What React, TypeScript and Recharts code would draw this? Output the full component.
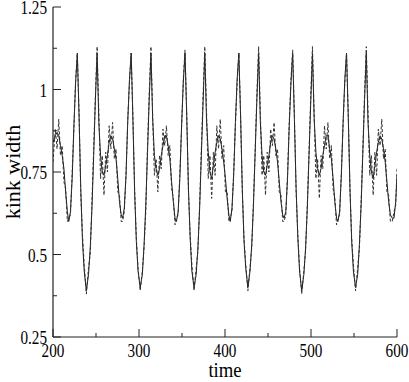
import React from 'react';
import { LineChart, Line, XAxis, YAxis, Label } from 'recharts';

// time samples
const time = [
  200, 202.7, 204.7, 206.7, 208.7, 210.7, 212.7, 214.7, 216.7,
  218.3, 220.3, 222.3, 224.3, 226.3, 228.3, 230.3, 232.3, 234.3, 236.3, 238.8, 241.3, 243.3, 245.3, 247.3, 249.3, 251.3, 253.3, 255.3, 257.3, 259.3, 261.3, 263.3, 265.3, 267.3, 269.3, 271.3, 273.3, 275.3, 277.3, 279.3,
  280.9, 282.9, 284.9, 286.9, 288.9, 290.9, 292.9, 294.9, 296.9, 298.9, 301.4, 303.9, 305.9, 307.9, 309.9, 311.9, 313.9, 315.9, 317.9, 319.9, 321.9, 323.9, 325.9, 327.9, 329.9, 331.9, 333.9, 335.9, 337.9, 339.9, 341.9,
  343.5, 345.5, 347.5, 349.5, 351.5, 353.5, 355.5, 357.5, 359.5, 361.5, 364, 366.5, 368.5, 370.5, 372.5, 374.5, 376.5, 378.5, 380.5, 382.5, 384.5, 386.5, 388.5, 390.5, 392.5, 394.5, 396.5, 398.5, 400.5, 402.5, 404.5,
  406.1, 408.1, 410.1, 412.1, 414.1, 416.1, 418.1, 420.1, 422.1, 424.1, 426.6, 429.1, 431.1, 433.1, 435.1, 437.1, 439.1, 441.1, 443.1, 445.1, 447.1, 449.1, 451.1, 453.1, 455.1, 457.1, 459.1, 461.1, 463.1, 465.1, 467.1,
  468.7, 470.7, 472.7, 474.7, 476.7, 478.7, 480.7, 482.7, 484.7, 486.7, 489.2, 491.7, 493.7, 495.7, 497.7, 499.7, 501.7, 503.7, 505.7, 507.7, 509.7, 511.7, 513.7, 515.7, 517.7, 519.7, 521.7, 523.7, 525.7, 527.7, 529.7,
  531.3, 533.3, 535.3, 537.3, 539.3, 541.3, 543.3, 545.3, 547.3, 549.3, 551.8, 554.3, 556.3, 558.3, 560.3, 562.3, 564.3, 566.3, 568.3, 570.3, 572.3, 574.3, 576.3, 578.3, 580.3, 582.3, 584.3, 586.3, 588.3, 590.3, 592.3,
  594.5, 596.5, 598.5, 600,
];

// solid curve
const kinkSolid = [
  0.84, 0.86, 0.87, 0.86, 0.83, 0.80, 0.76, 0.69, 0.63,
  0.60, 0.63, 0.73, 0.89, 1.02, 1.11, 0.92, 0.70, 0.54, 0.45, 0.39, 0.44, 0.52, 0.64, 0.80, 0.97, 1.11, 0.90, 0.80, 0.75, 0.74, 0.77, 0.80, 0.84, 0.86, 0.85, 0.82, 0.79, 0.73, 0.66, 0.62,
  0.61, 0.64, 0.74, 0.90, 1.03, 1.11, 0.91, 0.69, 0.54, 0.45, 0.40, 0.44, 0.53, 0.65, 0.81, 0.97, 1.11, 0.91, 0.80, 0.76, 0.74, 0.76, 0.80, 0.83, 0.86, 0.86, 0.83, 0.79, 0.72, 0.66, 0.61,
  0.60, 0.63, 0.73, 0.89, 1.02, 1.11, 0.92, 0.70, 0.55, 0.45, 0.40, 0.44, 0.52, 0.64, 0.80, 0.96, 1.11, 0.91, 0.81, 0.75, 0.73, 0.77, 0.81, 0.84, 0.86, 0.85, 0.82, 0.78, 0.73, 0.67, 0.62,
  0.60, 0.64, 0.74, 0.90, 1.03, 1.11, 0.92, 0.70, 0.54, 0.46, 0.40, 0.45, 0.53, 0.65, 0.81, 0.97, 1.11, 0.90, 0.80, 0.75, 0.74, 0.77, 0.80, 0.84, 0.86, 0.85, 0.82, 0.78, 0.72, 0.66, 0.62,
  0.61, 0.63, 0.73, 0.89, 1.02, 1.11, 0.91, 0.70, 0.55, 0.45, 0.39, 0.44, 0.52, 0.64, 0.80, 0.96, 1.11, 0.91, 0.81, 0.76, 0.74, 0.76, 0.80, 0.83, 0.86, 0.86, 0.82, 0.79, 0.73, 0.66, 0.61,
  0.60, 0.63, 0.74, 0.90, 1.03, 1.11, 0.92, 0.70, 0.54, 0.45, 0.40, 0.44, 0.53, 0.65, 0.81, 0.97, 1.11, 0.90, 0.80, 0.75, 0.73, 0.77, 0.81, 0.84, 0.86, 0.85, 0.82, 0.78, 0.72, 0.66, 0.62,
  0.61, 0.61, 0.66, 0.74,
];

// dashed curve
const kinkDashed = [
  0.78, 0.88, 0.82, 0.91, 0.80, 0.83, 0.72, 0.70, 0.60,
  0.61, 0.62, 0.75, 0.88, 1.03, 1.11, 0.93, 0.68, 0.56, 0.47, 0.38, 0.46, 0.50, 0.66, 0.82, 0.98, 1.13, 0.93, 0.73, 0.80, 0.68, 0.81, 0.75, 0.89, 0.82, 0.90, 0.79, 0.82, 0.69, 0.68, 0.60,
  0.60, 0.63, 0.74, 0.91, 1.02, 1.11, 0.92, 0.70, 0.55, 0.46, 0.39, 0.45, 0.52, 0.63, 0.83, 0.99, 1.13, 0.92, 0.74, 0.79, 0.69, 0.80, 0.76, 0.88, 0.83, 0.89, 0.80, 0.83, 0.70, 0.67, 0.59,
  0.61, 0.62, 0.75, 0.88, 1.03, 1.12, 0.93, 0.69, 0.56, 0.47, 0.39, 0.46, 0.51, 0.65, 0.82, 0.98, 1.13, 0.94, 0.73, 0.80, 0.67, 0.81, 0.74, 0.89, 0.82, 0.91, 0.79, 0.83, 0.69, 0.69, 0.60,
  0.61, 0.63, 0.75, 0.89, 1.02, 1.11, 0.93, 0.69, 0.55, 0.47, 0.39, 0.46, 0.52, 0.66, 0.82, 0.99, 1.13, 0.93, 0.74, 0.80, 0.68, 0.81, 0.75, 0.88, 0.83, 0.90, 0.80, 0.82, 0.69, 0.68, 0.60,
  0.60, 0.62, 0.74, 0.90, 1.03, 1.12, 0.92, 0.69, 0.56, 0.46, 0.38, 0.45, 0.51, 0.65, 0.81, 0.98, 1.13, 0.92, 0.73, 0.79, 0.67, 0.80, 0.76, 0.89, 0.82, 0.90, 0.79, 0.83, 0.70, 0.67, 0.59,
  0.61, 0.62, 0.75, 0.89, 1.02, 1.11, 0.93, 0.70, 0.55, 0.47, 0.39, 0.46, 0.52, 0.66, 0.82, 0.99, 1.13, 0.93, 0.74, 0.80, 0.68, 0.81, 0.74, 0.88, 0.83, 0.91, 0.79, 0.82, 0.69, 0.68, 0.60,
  0.60, 0.63, 0.65, 0.76,
];

const xMajorTicks = [200, 300, 400, 500, 600];
const xMinorTicks = [250, 350, 450, 550];
const yMajorTicks = [0.25, 0.5, 0.75, 1, 1.25];
const yMinorTicks = [0.375, 0.625, 0.875, 1.125];
const yTickLabels = ['0.25', '0.5', '0.75', '1', '1.25'];

const xAllTicks = [...xMajorTicks, ...xMinorTicks].sort((a, b) => a - b);
const yAllTicks = [...yMajorTicks, ...yMinorTicks].sort((a, b) => a - b);

const data = time.map((t, i) => ({ time: t, solid: kinkSolid[i], dashed: kinkDashed[i] }));

const FONT = "'Liberation Serif', 'Times New Roman', serif";
const AXIS = '#222';
const MAJOR = 8;
const MINOR = 4;

function BottomTick(props: any) {
  const { x, y, payload } = props;
  const v = payload.value;
  const major = xMajorTicks.includes(v);
  return (
    <g>
      <line x1={x} x2={x} y1={y} y2={y - (major ? MAJOR : MINOR)} stroke={AXIS} strokeWidth={1} />
      {major && (
        <text
          transform={`translate(${x},${y + 20}) scale(0.8,1)`}
          textAnchor="middle"
          fontFamily={FONT}
          fontSize={19}
          fill="#000"
        >
          {String(v)}
        </text>
      )}
    </g>
  );
}

function TopTick(props: any) {
  const { x, y, payload } = props;
  const major = xMajorTicks.includes(payload.value);
  return <line x1={x} x2={x} y1={y} y2={y + (major ? MAJOR : MINOR)} stroke={AXIS} strokeWidth={1} />;
}

function LeftTick(props: any) {
  const { x, y, payload } = props;
  const v = payload.value;
  const idx = yMajorTicks.indexOf(v);
  const major = idx >= 0;
  return (
    <g>
      <line x1={x} x2={x + (major ? MAJOR : MINOR)} y1={y} y2={y} stroke={AXIS} strokeWidth={1} />
      {major && (
        <text
          transform={`translate(${x - 6},${y + 7}) scale(0.8,1)`}
          textAnchor="end"
          fontFamily={FONT}
          fontSize={19}
          fill="#000"
        >
          {yTickLabels[idx]}
        </text>
      )}
    </g>
  );
}

function RightTick(props: any) {
  const { x, y, payload } = props;
  const major = yMajorTicks.includes(payload.value);
  return <line x1={x} x2={x - (major ? MAJOR : MINOR)} y1={y} y2={y} stroke={AXIS} strokeWidth={1} />;
}

function XTitle(props: any) {
  const vb = props.viewBox || { x: 53, y: 337, width: 344, height: 45 };
  const cx = vb.x + vb.width / 2;
  return (
    <text
      transform={`translate(${cx},${vb.y + 40}) scale(0.85,1)`}
      textAnchor="middle"
      fontFamily={FONT}
      fontSize={22}
      fill="#000"
    >
      time
    </text>
  );
}

function YTitle(props: any) {
  const vb = props.viewBox || { x: 0, y: 7, width: 53, height: 330 };
  const cy = vb.y + vb.height / 2;
  return (
    <text
      transform={`translate(${vb.x + 20},${cy}) rotate(-90)`}
      textAnchor="middle"
      fontFamily={FONT}
      fontSize={22}
      fill="#000"
    >
      kink width
    </text>
  );
}

export default function App() {
  return (
    <div style={{ position: 'absolute', left: 0, top: 0, width: 409, height: 382, background: '#fff' }}>
      <LineChart width={409} height={382} data={data} margin={{ top: 7, right: 12, left: 0, bottom: 0 }}>
        <XAxis
          dataKey="time"
          type="number"
          domain={[200, 600]}
          allowDataOverflow
          ticks={xAllTicks}
          interval={0}
          height={45}
          tickLine={false}
          tickSize={0}
          tickMargin={0}
          tick={<BottomTick />}
          axisLine={{ stroke: AXIS, strokeWidth: 1.2 }}
        >
          <Label content={<XTitle />} />
        </XAxis>
        <XAxis
          xAxisId="top"
          orientation="top"
          type="number"
          domain={[200, 600]}
          ticks={xAllTicks}
          interval={0}
          height={0}
          tickLine={false}
          tickSize={0}
          tickMargin={0}
          tick={<TopTick />}
          axisLine={{ stroke: AXIS, strokeWidth: 1.2 }}
        />
        <YAxis
          type="number"
          domain={[0.25, 1.25]}
          allowDataOverflow
          ticks={yAllTicks}
          interval={0}
          width={53}
          tickLine={false}
          tickSize={0}
          tickMargin={0}
          tick={<LeftTick />}
          axisLine={{ stroke: AXIS, strokeWidth: 1.2 }}
        >
          <Label content={<YTitle />} />
        </YAxis>
        <YAxis
          yAxisId="right"
          orientation="right"
          type="number"
          domain={[0.25, 1.25]}
          ticks={yAllTicks}
          interval={0}
          width={0}
          tickLine={false}
          tickSize={0}
          tickMargin={0}
          tick={<RightTick />}
          axisLine={{ stroke: AXIS, strokeWidth: 1.2 }}
        />
        <Line
          dataKey="solid"
          type="linear"
          stroke="#1a1a1a"
          strokeWidth={1}
          dot={false}
          isAnimationActive={false}
        />
        <Line
          dataKey="dashed"
          type="linear"
          stroke="#333"
          strokeWidth={1}
          strokeDasharray="3 2"
          dot={false}
          isAnimationActive={false}
        />
      </LineChart>
    </div>
  );
}
